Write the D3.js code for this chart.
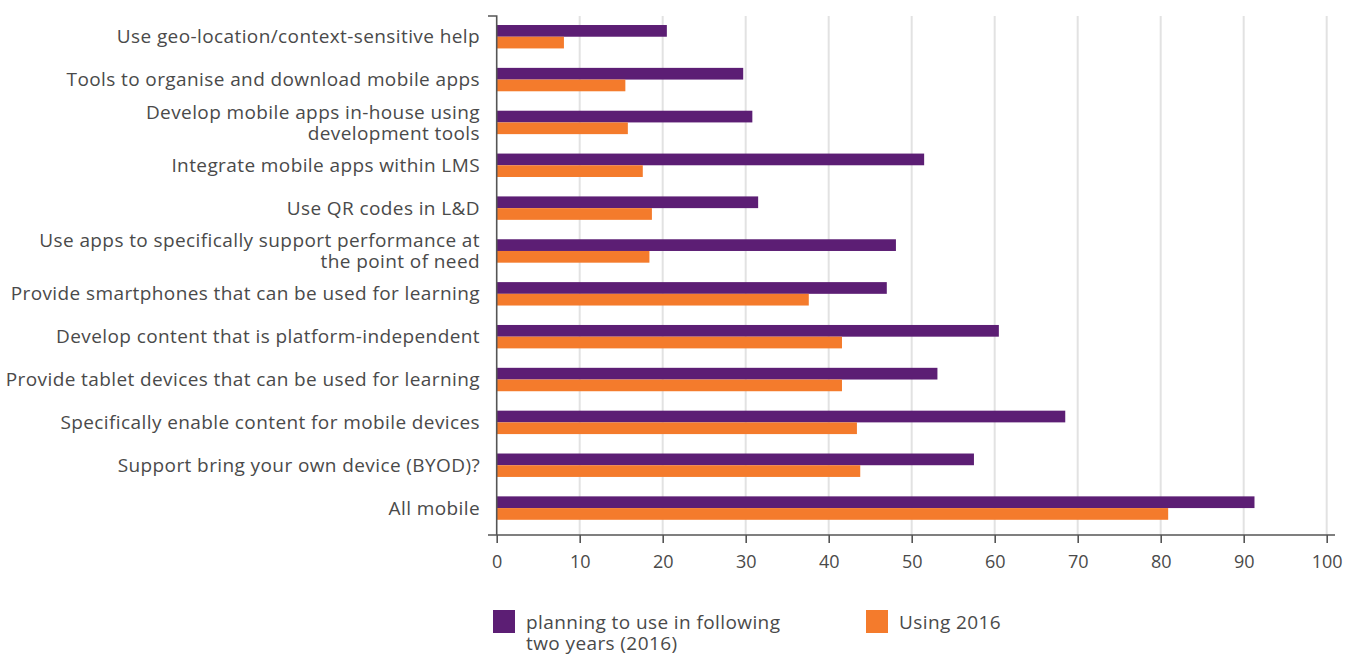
<!DOCTYPE html>
<html>
<head>
<meta charset="utf-8">
<script src="https://cdn.jsdelivr.net/npm/d3@7"></script>
<style>
  html, body { margin: 0; padding: 0; background: #fff; }
  svg text { font-family: "Open Sans", "Noto Sans", sans-serif; fill: #4a4a4a; }
</style>
</head>
<body>
<svg id="chart" width="1359" height="655"></svg>
<script>
// Mobile learning practices: share of organisations (%)
const categories = [
  "Use geo-location/context-sensitive help",
  "Tools to organise and download mobile apps",
  "Develop mobile apps in-house using|development tools",
  "Integrate mobile apps within LMS",
  "Use QR codes in L&D",
  "Use apps to specifically support performance at|the point of need",
  "Provide smartphones that can be used for learning",
  "Develop content that is platform-independent",
  "Provide tablet devices that can be used for learning",
  "Specifically enable content for mobile devices",
  "Support bring your own device (BYOD)?",
  "All mobile"
];
const planningValues = [20.5, 29.7, 30.8, 51.5, 31.5, 48.1, 47.0, 60.5, 53.1, 68.5, 57.5, 91.3];
const usingValues    = [8.1, 15.5, 15.8, 17.6, 18.7, 18.4, 37.6, 41.6, 41.6, 43.4, 43.8, 80.9];
const seriesNames = ["planning to use in following|two years (2016)", "Using 2016"];
const seriesColors = ["#5c1e74", "#f47b2c"];
const xTicks = [0, 10, 20, 30, 40, 50, 60, 70, 80, 90, 100];

const svg = d3.select("#chart");
const x = d3.scaleLinear().domain([0, 100]).range([496.7, 1326.7]);
const y = d3.scaleBand().domain(categories).range([15.3, 529.5]).padding(0);
const ySub = d3.scaleBand().domain([0, 1]).range([0, y.bandwidth()]).paddingInner(0).paddingOuter(0.83);
const axisY = 535;

// vertical gridlines
svg.append("g").selectAll("line").data(xTicks.slice(1)).join("line")
  .attr("x1", d => x(d)).attr("x2", d => x(d))
  .attr("y1", 16).attr("y2", axisY)
  .attr("stroke", "#e2e2e2").attr("stroke-width", 2);

// bars
const rows = categories.map((c, i) => ({ c, vals: [planningValues[i], usingValues[i]] }));
const grp = svg.append("g").selectAll("g").data(rows).join("g")
  .attr("transform", d => `translate(0,${y(d.c)})`);
grp.selectAll("rect").data(d => d.vals.map((v, k) => ({ v, k }))).join("rect")
  .attr("x", x(0))
  .attr("y", d => ySub(d.k))
  .attr("width", d => x(d.v) - x(0))
  .attr("height", ySub.bandwidth())
  .attr("fill", d => seriesColors[d.k]);

// x axis
const xAxis = d3.axisBottom(x).tickValues(xTicks).tickSize(8).tickSizeOuter(0).tickPadding(12);
const gx = svg.append("g").attr("transform", `translate(0,${axisY})`).call(xAxis);
gx.select(".domain").remove();
gx.append("line").attr("x1", 488).attr("x2", 1335).attr("y1", 0).attr("y2", 0)
  .attr("stroke", "#555").attr("stroke-width", 1.6);
gx.selectAll(".tick line").attr("stroke", "#555").attr("stroke-width", 1.6);
gx.selectAll(".tick text").style("font-size", "18px").style("font-family", "'Open Sans', sans-serif").attr("fill", "#4a4a4a");

// y axis line with top stub
svg.append("path")
  .attr("d", `M488,16H${x(0)}V${axisY}`)
  .attr("fill", "none").attr("stroke", "#555").attr("stroke-width", 1.6);

// category labels
const labels = svg.append("g").selectAll("text").data(categories).join("text")
  .attr("text-anchor", "end")
  .style("font-size", "19px")
  .style("letter-spacing", "0.4px");
labels.each(function (d) {
  const lines = d.split("|");
  const cy = y(d) + y.bandwidth() / 2;
  const lh = 21;
  const t = d3.select(this);
  lines.forEach((ln, i) => {
    t.append("tspan").attr("x", 480)
      .attr("y", cy + (i - (lines.length - 1) / 2) * lh)
      .attr("dy", "0.35em")
      .text(ln);
  });
});

// legend
const legendX = [493, 866];
const lg = svg.append("g").selectAll("g").data(seriesNames).join("g")
  .attr("transform", (d, i) => `translate(${legendX[i]},610)`);
lg.append("rect").attr("width", 22).attr("height", 23).attr("fill", (d, i) => seriesColors[i]);
lg.append("text").style("font-size", "19px").style("letter-spacing", "0.4px").each(function (d) {
  const t = d3.select(this);
  d.split("|").forEach((ln, i) => {
    t.append("tspan").attr("x", 33).attr("y", 19 + i * 21).text(ln);
  });
});
</script>
</body>
</html>
